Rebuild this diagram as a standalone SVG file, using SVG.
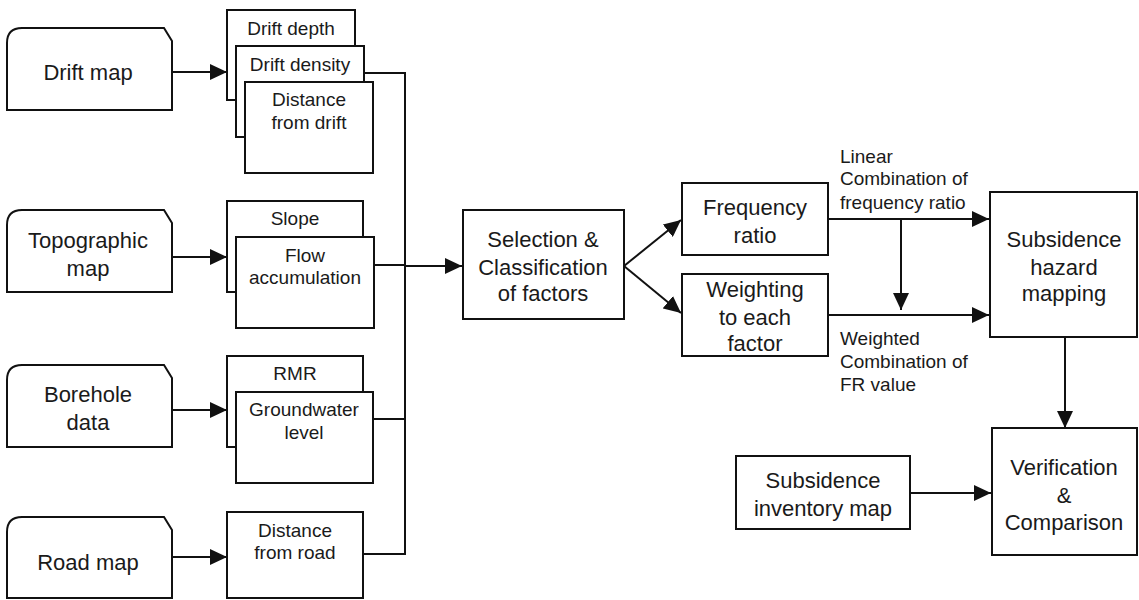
<svg xmlns="http://www.w3.org/2000/svg" width="1139" height="600" viewBox="0 0 1139 600">
<style>
.box{fill:#fff;stroke:#111;stroke-width:2}
.ln{fill:none;stroke:#111;stroke-width:2}
.arr{marker-end:url(#ah)}
text{font-family:"Liberation Sans",Arial,sans-serif;fill:#1a1a1a;text-anchor:middle}
.big{font-size:22px}
.sm{font-size:19px}
.lbl{font-size:19px;text-anchor:start}
</style>
<defs>
<marker id="ah" markerUnits="userSpaceOnUse" markerWidth="18" markerHeight="16" refX="17" refY="8" orient="auto">
<path d="M0,0 L17,8 L0,16 Z" fill="#111"/>
</marker>
</defs>
<rect width="1139" height="600" fill="#fff"/>

<g id="connectors">
<line class="ln arr" x1="172" y1="72" x2="227" y2="72"/>
<line class="ln arr" x1="172" y1="257" x2="227" y2="257"/>
<line class="ln arr" x1="172" y1="410" x2="227" y2="410"/>
<line class="ln arr" x1="172" y1="557" x2="227" y2="557"/>
<polyline class="ln" points="364,73 405,73 405,554 363,554"/>
<line class="ln" x1="374" y1="265" x2="405" y2="265"/>
<line class="ln" x1="373" y1="419" x2="405" y2="419"/>
<line class="ln arr" x1="405" y1="266" x2="462" y2="266"/>
<line class="ln arr" x1="624" y1="266" x2="681" y2="220"/>
<line class="ln arr" x1="624" y1="266" x2="681" y2="313"/>
<line class="ln arr" x1="828" y1="219" x2="989" y2="219"/>
<line class="ln arr" x1="901" y1="219" x2="901" y2="310"/>
<line class="ln arr" x1="828" y1="315" x2="989" y2="315"/>
<line class="ln arr" x1="1065" y1="337" x2="1065" y2="428"/>
<line class="ln arr" x1="910" y1="493" x2="991" y2="493"/>
<text class="lbl" x="840" y="163">Linear</text>
<text class="lbl" x="840" y="185">Combination of</text>
<text class="lbl" x="840" y="209">frequency ratio</text>
<text class="lbl" x="840" y="345">Weighted</text>
<text class="lbl" x="840" y="368">Combination of</text>
<text class="lbl" x="840" y="391">FR value</text>
</g>

<g id="drift-map">
<path class="box" d="M7,110 L7,43 Q7,28 22,28 L164,28 L172,41 L172,110 Z"/>
<text class="big" x="88" y="80">Drift map</text>
</g>
<g id="topographic-map">
<path class="box" d="M7,292 L7,225 Q7,210 22,210 L164,210 L172,223 L172,292 Z"/>
<text class="big" x="88" y="248">Topographic</text>
<text class="big" x="88" y="276">map</text>
</g>
<g id="borehole-data">
<path class="box" d="M7,447 L7,380 Q7,365 22,365 L164,365 L172,378 L172,447 Z"/>
<text class="big" x="88" y="402">Borehole</text>
<text class="big" x="88" y="430">data</text>
</g>
<g id="road-map">
<path class="box" d="M7,598 L7,532 Q7,517 22,517 L164,517 L172,530 L172,598 Z"/>
<text class="big" x="88" y="570">Road map</text>
</g>

<g id="drift-depth">
<rect class="box" x="227" y="10" width="128" height="90"/>
<text class="sm" x="291" y="35">Drift depth</text>
</g>
<g id="drift-density">
<rect class="box" x="236" y="46" width="128" height="91"/>
<text class="sm" x="300" y="71">Drift density</text>
</g>
<g id="distance-from-drift">
<rect class="box" x="245" y="82" width="128" height="91"/>
<text class="sm" x="309" y="106">Distance</text>
<text class="sm" x="309" y="129">from drift</text>
</g>

<g id="slope">
<rect class="box" x="227" y="201" width="136" height="91"/>
<text class="sm" x="295" y="225">Slope</text>
</g>
<g id="flow-accumulation">
<rect class="box" x="236" y="237" width="138" height="91"/>
<text class="sm" x="305" y="262">Flow</text>
<text class="sm" x="305" y="284">accumulation</text>
</g>

<g id="rmr">
<rect class="box" x="227" y="356" width="136" height="91"/>
<text class="sm" x="295" y="380">RMR</text>
</g>
<g id="groundwater-level">
<rect class="box" x="236" y="392" width="137" height="91"/>
<text class="sm" x="304" y="416">Groundwater</text>
<text class="sm" x="304" y="439">level</text>
</g>

<g id="distance-from-road">
<rect class="box" x="227" y="512" width="136" height="86"/>
<text class="sm" x="295" y="537">Distance</text>
<text class="sm" x="295" y="559">from road</text>
</g>

<g id="selection">
<rect class="box" x="463" y="210" width="161" height="109"/>
<text class="big" x="543" y="247">Selection &amp;</text>
<text class="big" x="543" y="275">Classification</text>
<text class="big" x="543" y="301">of factors</text>
</g>
<g id="frequency-ratio">
<rect class="box" x="682" y="183" width="146" height="72"/>
<text class="big" x="755" y="215">Frequency</text>
<text class="big" x="755" y="243">ratio</text>
</g>
<g id="weighting">
<rect class="box" x="682" y="274" width="146" height="82"/>
<text class="big" x="755" y="297">Weighting</text>
<text class="big" x="755" y="325">to each</text>
<text class="big" x="755" y="351">factor</text>
</g>
<g id="subsidence-hazard-mapping">
<rect class="box" x="990" y="192" width="147" height="145"/>
<text class="big" x="1064" y="247">Subsidence</text>
<text class="big" x="1064" y="275">hazard</text>
<text class="big" x="1064" y="301">mapping</text>
</g>
<g id="verification">
<rect class="box" x="992" y="428" width="145" height="127"/>
<text class="big" x="1064" y="475">Verification</text>
<text class="big" x="1064" y="503">&amp;</text>
<text class="big" x="1064" y="530">Comparison</text>
</g>
<g id="inventory">
<rect class="box" x="736" y="456" width="174" height="73"/>
<text class="big" x="823" y="488">Subsidence</text>
<text class="big" x="823" y="516">inventory map</text>
</g>
</svg>
